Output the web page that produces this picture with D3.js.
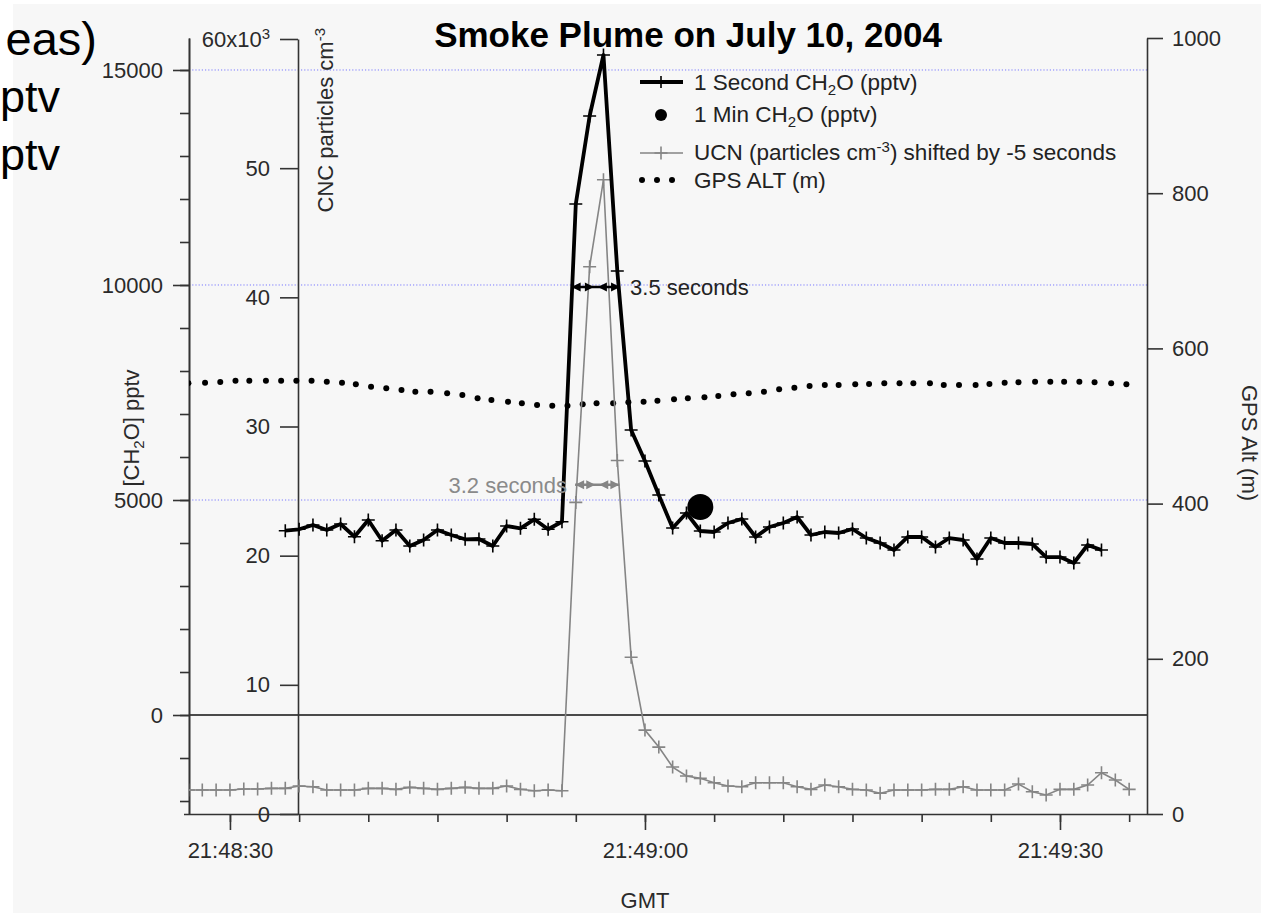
<!DOCTYPE html>
<html>
<head>
<meta charset="utf-8">
<script src="https://cdnjs.cloudflare.com/ajax/libs/d3/7.8.5/d3.min.js"></script>
<style>
  html, body { margin: 0; padding: 0; background: #ffffff; overflow: hidden; }
  svg { display: block; }
  text { font-family: "Liberation Sans", Arial, Helvetica, sans-serif; }
</style>
</head>
<body>
<svg id="chart" width="1261" height="913"></svg>
<script>
// Times are seconds after 21:48:00 GMT on 10 July 2004.

// 1 second CH2O (pptv)
const ch2oSeconds = [34,35,36,37,38,39,40,41,42,43,44,45,46,47,48,49,50,51,52,53,
  54,55,56,57,58,59,60,61,62,63,64,65,66,67,68,69,70,71,72,73,
  74,75,76,77,78,79,80,81,82,83,84,85,86,87,88,89,90,91,92,93];
const ch2oPptv = [4286,4319,4419,4302,4442,4147,4535,4053,4302,3930,4070,4302,4186,4086,4093,3930,4395,4342,4551,4319,
  4495,11884,13930,15349,10326,6628,5907,5116,4349,4698,4279,4256,4465,4558,4140,4372,4465,4605,4186,4256,
  4233,4326,4116,4000,3837,4140,4140,3907,4116,4070,3628,4116,4000,4000,3977,3674,3674,3535,3953,3837];

// 1 minute CH2O average (pptv)
const ch2oMinSeconds = [64];
const ch2oMinPptv = [4837];

// UCN particle counts (cm^-3), shifted by -5 s
const ucnSeconds = [27,28,29,30,31,32,33,34,35,36,37,38,39,40,41,42,43,44,45,46,47,48,49,50,51,52,53,
  54,55,56,57,58,59,60,61,62,63,64,65,66,67,68,69,70,71,72,73,74,75,76,77,78,79,80,
  81,82,83,84,85,86,87,88,89,90,91,92,93,94,95];
const ucnCount = [1856,1856,1856,1856,1933,1933,1987,1987,2165,2111,1856,1856,1856,1987,1987,1910,2064,1987,1910,1987,2064,1987,1987,2165,1910,1802,1856,
  1802,24124,42372,49100,27372,12139,6495,5181,3634,2939,2760,2420,2165,2111,2420,2420,2420,2111,1910,2242,2111,1910,1856,1601,1856,1856,1856,
  1910,1910,2111,1856,1856,1856,2320,1724,1469,1910,1910,2242,3193,2629,1910];

// GPS altitude (m)
const gpsSeconds = [27.0,28.2,29.3,30.4,31.4,32.6,33.7,34.8,35.9,37.0,38.1,39.1,40.2,41.3,42.4,43.4,44.5,45.7,46.8,47.9,
  48.9,50.1,51.1,52.2,53.3,54.4,55.5,56.5,57.7,58.8,59.9,60.9,62.1,63.1,64.3,65.3,66.4,67.5,68.6,69.7,
  70.8,71.9,73.0,74.0,75.2,76.2,77.3,78.4,79.4,80.6,81.6,82.7,83.9,84.9,86.0,87.0,88.2,89.3,90.3,91.4,
  92.5,93.7,94.8];
const gpsAlt = [555.0,555.8,556.7,558.4,558.4,558.4,558.4,558.4,558.4,557.1,555.8,553.7,550.6,548.6,546.4,544.2,544.2,542.1,539.9,535.7,
  533.5,531.3,529.3,527.1,526.2,526.2,528.0,529.3,529.3,530.5,531.3,532.6,534.4,535.7,537.0,538.7,540.8,542.1,544.2,547.3,
  549.4,551.5,552.8,552.8,553.7,554.1,555.0,555.0,555.0,555.0,552.8,552.8,552.8,554.1,555.8,556.3,557.1,557.1,557.1,557.1,
  556.3,555.0,553.7];

// Axis ticks
const timeMajorSeconds = [30, 60, 90];
const ch2oTicks = [0, 5000, 10000, 15000];
const ucnTicks = [0, 10000, 20000, 30000, 40000, 50000, 60000];
const altTicks = [0, 200, 400, 600, 800, 1000];

// Pulse width annotations
const ch2oWidth = { from: 54.7, to: 58.2, level: 10000, label: "3.5 seconds" };
const ucnWidth = { from: 54.95, to: 58.15, level: 25500, label: "3.2 seconds" };

const T0 = Date.UTC(2004, 6, 10, 21, 48, 0);
const toDate = s => new Date(T0 + s * 1000);

const svg = d3.select("#chart");
const W = 1261, H = 913;
const plot = { left: 189, right: 1147, top: 38, bottom: 814 };

const axisColor = "#333333";
const textColor = "#2a2a2a";
const fontSize = 22;
const legendSize = 22.5;
const smallSize = 15;

// background
svg.append("rect").attr("x", 0).attr("y", 0).attr("width", W).attr("height", H).attr("fill", "#ffffff");
svg.append("rect").attr("x", 13).attr("y", 4).attr("width", W - 13).attr("height", H - 4).attr("fill", "#f7f7f7");

// slide text behind the chart
const slideText = svg.append("g").attr("fill", "#000");
slideText.append("text").attr("x", 97).attr("y", 55).attr("text-anchor", "end").attr("font-size", 47).text("eas)");
slideText.append("text").attr("x", 0).attr("y", 112).attr("font-size", 45).text("ptv");
slideText.append("text").attr("x", 0).attr("y", 170).attr("font-size", 45).text("ptv");

// scales
const x = d3.scaleUtc().domain([toDate(27.04), toDate(96.29)]).range([plot.left, plot.right]);
const yL = d3.scaleLinear().domain([-2302, 15744]).range([plot.bottom, plot.top]);
const yM = d3.scaleLinear().domain([0, 60000]).range([plot.bottom, 39]);
const yR = d3.scaleLinear().domain([0, 1000]).range([plot.bottom, plot.top]);

svg.append("defs").append("clipPath").attr("id", "plotClip")
  .append("rect").attr("x", plot.left).attr("y", plot.top)
  .attr("width", plot.right - plot.left).attr("height", plot.bottom - plot.top);

// horizontal grid (dotted blue)
const grid = svg.append("g");
grid.selectAll("line").data(ch2oTicks.filter(d => d > 0)).join("line")
  .attr("x1", plot.left).attr("x2", plot.right)
  .attr("y1", d => yL(d)).attr("y2", d => yL(d))
  .attr("stroke", "#7a7aff").attr("stroke-width", 1).attr("stroke-dasharray", "1.2 2");
// zero line
svg.append("line").attr("x1", plot.left).attr("x2", plot.right)
  .attr("y1", yL(0)).attr("y2", yL(0)).attr("stroke", "#111").attr("stroke-width", 1.5);

function styleAxis(g) {
  g.select(".domain").attr("stroke", axisColor).attr("stroke-width", 1.6);
  g.selectAll(".tick line").attr("stroke", axisColor).attr("stroke-width", 1.6);
  g.selectAll(".tick text").attr("fill", textColor).attr("font-size", fontSize)
    .attr("font-family", '"Liberation Sans", Arial, sans-serif');
}

// left axis: CH2O
const gL = svg.append("g").attr("transform", `translate(${plot.left},0)`);
gL.call(d3.axisLeft(yL).tickValues(d3.range(-2000, 15001, 1000)).tickSize(9).tickSizeOuter(0).tickFormat(""));
const gL2 = svg.append("g").attr("transform", `translate(${plot.left},0)`);
gL2.call(d3.axisLeft(yL).tickValues(ch2oTicks).tickSize(16).tickPadding(10).tickSizeOuter(0).tickFormat(d3.format("d")));
styleAxis(gL); styleAxis(gL2);

// middle axis: CNC particles
const midX = 298;
const gM = svg.append("g").attr("transform", `translate(${midX},0)`);
gM.call(d3.axisLeft(yM).tickValues(ucnTicks).tickSize(18).tickPadding(10).tickSizeOuter(0)
  .tickFormat(d => d === 60000 ? "" : d3.format("d")(d / 1000)));
styleAxis(gM);
// top label 60x10^3
const topLabel = gM.selectAll(".tick").filter(d => d === 60000).select("text").attr("dy", "0.36em");
topLabel.append("tspan").text("60x10");
topLabel.append("tspan").attr("dy", -8).attr("font-size", smallSize).text("3");

// right axis: GPS altitude
const gR = svg.append("g").attr("transform", `translate(${plot.right},0)`);
gR.call(d3.axisRight(yR).tickValues(altTicks).tickSize(16).tickPadding(9).tickSizeOuter(0).tickFormat(d3.format("d")));
styleAxis(gR);

// bottom axis: time
const fmt = d3.utcFormat("%H:%M:%S");
const gB = svg.append("g").attr("transform", `translate(0,${plot.bottom})`);
gB.call(d3.axisBottom(x).ticks(d3.utcSecond.every(5)).tickSize(8).tickSizeOuter(0).tickFormat(""));
const gB2 = svg.append("g").attr("transform", `translate(0,${plot.bottom})`);
gB2.call(d3.axisBottom(x).tickValues(timeMajorSeconds.map(toDate)).tickSize(16).tickPadding(12)
  .tickSizeOuter(0).tickFormat(fmt));
styleAxis(gB); styleAxis(gB2);
gB.select(".domain").attr("d", `M${plot.left - 5},0.5H${plot.right}`);
gB2.select(".domain").remove();

// axis titles
svg.append("text").attr("x", x(toDate(60))).attr("y", 908)
  .attr("text-anchor", "middle").attr("font-size", fontSize).attr("fill", textColor).text("GMT");

const tL = svg.append("text").attr("transform", "translate(139,428) rotate(-90)")
  .attr("text-anchor", "middle").attr("font-size", fontSize).attr("fill", textColor);
tL.append("tspan").text("[CH");
tL.append("tspan").attr("dy", 5).attr("font-size", smallSize).text("2");
tL.append("tspan").attr("dy", -5).text("O] pptv");

const tM = svg.append("text").attr("transform", "translate(333,28) rotate(-90)")
  .attr("text-anchor", "end").attr("font-size", fontSize).attr("fill", textColor);
tM.append("tspan").text("CNC particles cm");
tM.append("tspan").attr("dy", -8).attr("font-size", smallSize).text("-3");

svg.append("text").attr("transform", "translate(1242,443) rotate(90)")
  .attr("text-anchor", "middle").attr("font-size", fontSize).attr("fill", textColor).text("GPS Alt (m)");

// title
svg.append("text").attr("x", 688).attr("y", 47).attr("text-anchor", "middle")
  .attr("font-size", 35).attr("font-weight", "bold").attr("fill", "#000")
  .text("Smoke Plume on July 10, 2004");

// data layers
const layer = svg.append("g").attr("clip-path", "url(#plotClip)");
const cross = s => `M${-s},0H${s}M0,${-s}V${s}`;

// GPS altitude dots
layer.append("g").selectAll("circle").data(gpsSeconds.map((s, i) => [s, gpsAlt[i]])).join("circle")
  .attr("cx", d => x(toDate(d[0]))).attr("cy", d => yR(d[1])).attr("r", 3).attr("fill", "#000");

// UCN
const ucnData = ucnSeconds.map((s, i) => [s, ucnCount[i]]);
layer.append("path").datum(ucnData)
  .attr("d", d3.line().x(d => x(toDate(d[0]))).y(d => yM(d[1])))
  .attr("fill", "none").attr("stroke", "#858585").attr("stroke-width", 1.6);
layer.append("g").selectAll("path").data(ucnData).join("path")
  .attr("transform", d => `translate(${x(toDate(d[0]))},${yM(d[1])})`)
  .attr("d", cross(6.5)).attr("stroke", "#858585").attr("stroke-width", 1.6).attr("fill", "none");

// CH2O 1 s
const ch2oData = ch2oSeconds.map((s, i) => [s, ch2oPptv[i]]);
layer.append("path").datum(ch2oData)
  .attr("d", d3.line().x(d => x(toDate(d[0]))).y(d => yL(d[1])))
  .attr("fill", "none").attr("stroke", "#000").attr("stroke-width", 3.8).attr("stroke-linejoin", "round");
layer.append("g").selectAll("path").data(ch2oData).join("path")
  .attr("transform", d => `translate(${x(toDate(d[0]))},${yL(d[1])})`)
  .attr("d", cross(6.5)).attr("stroke", "#000").attr("stroke-width", 1.6).attr("fill", "none");

// CH2O 1 min
layer.append("g").selectAll("circle").data(ch2oMinSeconds.map((s, i) => [s, ch2oMinPptv[i]])).join("circle")
  .attr("cx", d => x(toDate(d[0]))).attr("cy", d => yL(d[1])).attr("r", 13).attr("fill", "#000");

// pulse width annotations: two arrows meeting in the middle
function widthArrows(g, x1, x2, y, color) {
  const hl = 9, hw = 4.5;
  const xm = (x1 + x2) / 2;
  g.append("line").attr("x1", x1).attr("x2", x2).attr("y1", y).attr("y2", y)
    .attr("stroke", color).attr("stroke-width", 2.5);
  const head = (tip, dir) => `M${tip},${y}L${tip - dir * hl},${y - hw}L${tip - dir * hl},${y + hw}Z`;
  g.append("path").attr("d", head(x1, -1)).attr("fill", color);
  g.append("path").attr("d", head(x2, 1)).attr("fill", color);
  g.append("path").attr("d", head(xm - 2, 1)).attr("fill", color);
  g.append("path").attr("d", head(xm + 2, -1)).attr("fill", color);
}
const ann = svg.append("g");
{
  const x1 = x(toDate(ch2oWidth.from)), x2 = x(toDate(ch2oWidth.to)), y = yL(ch2oWidth.level) + 2;
  widthArrows(ann, x1, x2, y, "#000");
  ann.append("text").attr("x", x2 + 10).attr("y", y + 8).attr("font-size", fontSize).attr("fill", "#222").text(ch2oWidth.label);
}
{
  const x1 = x(toDate(ucnWidth.from)), x2 = x(toDate(ucnWidth.to)), y = yM(ucnWidth.level);
  widthArrows(ann, x1, x2, y, "#858585");
  ann.append("text").attr("x", x1 - 8).attr("y", y + 8).attr("text-anchor", "end")
    .attr("font-size", fontSize).attr("fill", "#8a8a8a").text(ucnWidth.label);
}

// legend
const lg = svg.append("g");
const lx0 = 640, lx1 = 683, lxm = 661, tx = 694;
lg.append("line").attr("x1", lx0).attr("x2", lx1).attr("y1", 82).attr("y2", 82).attr("stroke", "#000").attr("stroke-width", 3.8);
lg.append("path").attr("transform", `translate(${lxm},82)`).attr("d", cross(6)).attr("stroke", "#000").attr("stroke-width", 1.6);
lg.append("circle").attr("cx", lxm).attr("cy", 115).attr("r", 6).attr("fill", "#000");
lg.append("line").attr("x1", lx0).attr("x2", lx1).attr("y1", 153).attr("y2", 153).attr("stroke", "#858585").attr("stroke-width", 1.6);
lg.append("path").attr("transform", `translate(${lxm},153)`).attr("d", cross(6.5)).attr("stroke", "#858585").attr("stroke-width", 1.6);
lg.selectAll(".gd").data([642, 657, 672]).join("circle").attr("class", "gd")
  .attr("cx", d => d).attr("cy", 180).attr("r", 3).attr("fill", "#000");

function legendText(y, parts) {
  const t = lg.append("text").attr("x", tx).attr("y", y).attr("font-size", legendSize).attr("fill", "#222");
  parts.forEach(p => {
    const s = t.append("tspan").text(p.t);
    if (p.size) s.attr("font-size", p.size);
    if (p.dy) s.attr("dy", p.dy);
  });
}
legendText(90, [{ t: "1 Second CH" }, { t: "2", size: smallSize, dy: 5 }, { t: "O (pptv)", dy: -5 }]);
legendText(122, [{ t: "1 Min CH" }, { t: "2", size: smallSize, dy: 5 }, { t: "O (pptv)", dy: -5 }]);
legendText(160, [{ t: "UCN (particles cm" }, { t: "-3", size: smallSize, dy: -8 }, { t: ") shifted by -5 seconds", dy: 8 }]);
legendText(188, [{ t: "GPS ALT (m)" }]);
</script>
</body>
</html>
